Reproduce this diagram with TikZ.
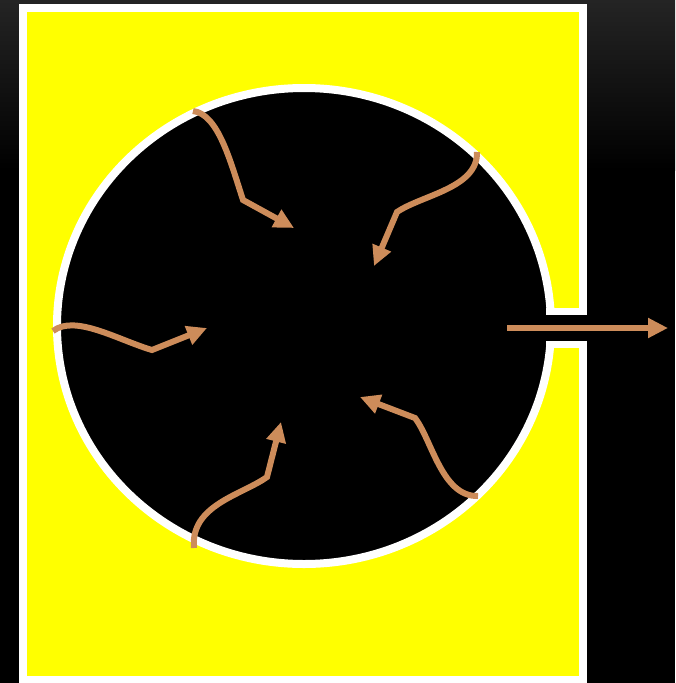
\documentclass[tikz,border=0pt]{standalone}
\usetikzlibrary{arrows.meta}
\definecolor{arrowc}{RGB}{205,140,90}
\definecolor{bgtop}{RGB}{36,36,36}
\definecolor{pureyellow}{RGB}{255,255,0}
\tikzset{
  flow/.style={draw=arrowc, line width=6pt, -{Triangle[length=20pt,width=19pt]}},
  whiteborder/.style={draw=white, line width=8pt}
}
\begin{document}
\begin{tikzpicture}[x=1pt,y=-1pt]
\useasboundingbox (0,0) rectangle (675,683);
% background
\fill[black] (0,0) rectangle (675,683);
\shade[top color=bgtop, bottom color=black] (0,0) rectangle (675,170);
% yellow frame
\filldraw[fill=pureyellow, whiteborder] (23,8) rectangle (583,680);
% vessel
\filldraw[fill=black, whiteborder] (304,326) ellipse [x radius=247, y radius=238];
% outlet channel
\fill[white] (546,308) rectangle (587,348);
\fill[black] (535,315) rectangle (600,341);
% named points
\coordinate (s1) at (193,111);
\coordinate (k1) at (243,200);
\coordinate (t1) at (294,228);
\coordinate (s2) at (477,152);
\coordinate (k2) at (397,212);
\coordinate (t2) at (374,266);
\coordinate (s3) at (53,331);
\coordinate (k3) at (152,350);
\coordinate (t3) at (207,328);
\coordinate (s4) at (194,548);
\coordinate (k4) at (267,477);
\coordinate (t4) at (281,422);
\coordinate (s5) at (478,496);
\coordinate (k5) at (415,418);
\coordinate (t5) at (360,397);
\coordinate (s6) at (507,328);
\coordinate (t6) at (668,328);
% arrows
\draw[flow] (s1) .. controls (218,114) and (230,160) .. (k1) -- (t1);
\draw[flow] (s2) .. controls (478,188) and (422,195) .. (k2) -- (t2);
\draw[flow] (s3) .. controls (75,314) and (118,340) .. (k3) -- (t3);
\draw[flow] (s4) .. controls (190,505) and (242,495) .. (k4) -- (t4);
\draw[flow] (s5) .. controls (442,497) and (432,440) .. (k5) -- (t5);
\draw[flow] (s6) -- (t6);
\end{tikzpicture}
\end{document}
